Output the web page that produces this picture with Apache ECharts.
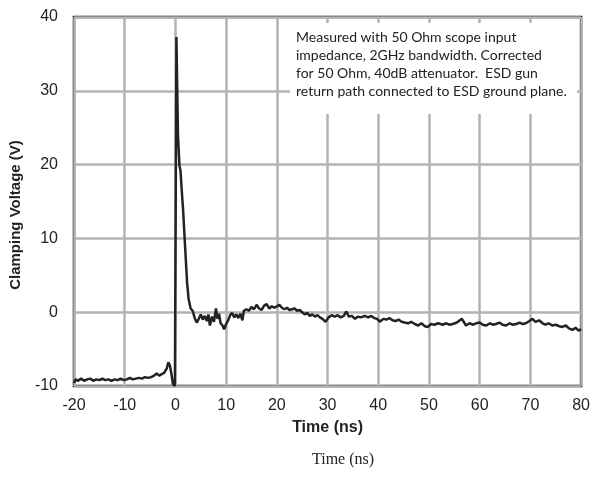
<!DOCTYPE html>
<html>
<head>
<meta charset="utf-8">
<script src="https://cdn.jsdelivr.net/npm/echarts@6/dist/echarts.min.js"></script>
<style>
  html, body { margin: 0; padding: 0; background: #fff; }
  #chart { width: 593px; height: 478px; }
</style>
</head>
<body>
<div id="chart"></div>
<script>
// time in ns, clamping voltage in V
const times = [
  -20, -19.7, -19.2, -18.6, -18.0, -17.4, -16.8, -16.2, -15.6, -15.0,
  -14.4, -13.8, -13.2, -12.6, -12.0, -11.4, -10.8, -10.2, -9.6, -9.0,
  -8.4, -7.8, -7.2, -6.6, -6.0, -5.4, -4.8, -4.2, -3.7, -3.2,
  -2.7, -2.2, -1.7, -1.4, -1.1, -0.8, -0.5, -0.1, 0.2, 0.5,
  0.8, 1.0, 1.2, 1.5, 1.9, 2.3, 2.6, 3.0, 3.4, 3.8,
  4.2, 4.6, 5.0, 5.4, 5.8, 6.2, 6.5, 6.8, 7.2, 7.6,
  8.0, 8.3, 8.6, 8.9, 9.3, 9.6, 10.0, 10.4, 10.8, 11.2,
  11.6, 12.0, 12.4, 12.8, 13.2, 13.5, 14.0, 14.5, 15.0, 15.5,
  16.0, 16.5, 17.0, 17.5, 18.0, 18.5, 19.0, 19.5, 20.0, 20.5,
  21.0, 21.5, 22.0, 22.5, 23.0, 23.5, 24.0, 24.5, 25.0, 25.5,
  26.0, 26.5, 27.0, 27.5, 28.0, 28.5, 29.0, 29.6, 30.2, 30.8,
  31.4, 32.0, 32.6, 33.2, 33.7, 34.2, 34.8, 35.4, 36.0, 36.6,
  37.3, 38.0, 38.6, 39.2, 39.8, 40.3, 41.0, 41.6, 42.2, 42.8,
  43.4, 44.0, 44.6, 45.2, 45.9, 46.5, 47.2, 47.9, 48.5, 49.2,
  49.8, 50.4, 51.1, 51.8, 52.7, 53.4, 54.0, 54.7, 55.5, 56.5,
  57.3, 58.0, 58.7, 59.3, 60.0, 60.6, 61.3, 62.0, 62.6, 63.2,
  63.9, 64.5, 65.2, 65.9, 66.5, 67.2, 67.9, 68.5, 69.1, 69.8,
  70.4, 71.0, 71.7, 72.4, 73.0, 73.6, 74.3, 75.0, 75.7, 76.3,
  77.0, 77.6, 78.3, 78.9, 79.5, 80.0
]
const volts = [
  -9.6, -9.1, -9.3, -9.0, -9.3, -9.1, -9.0, -9.3, -9.1, -9.2,
  -9.0, -9.2, -9.1, -9.3, -9.1, -9.2, -9.0, -9.2, -9.1, -8.9,
  -9.1, -9.0, -8.9, -9.0, -8.8, -8.9, -8.8, -8.6, -8.3, -8.6,
  -8.4, -8.2, -7.6, -6.8, -7.2, -8.3, -9.7, -10, 37.3, 24,
  19.8, 19.2, 17, 14, 9, 4, 1.8, 0.5, 0.2, -0.8,
  -1.4, -0.9, -0.3, -1.0, -0.5, -1.2, -0.3, -1.8, -0.6, -1.3,
  0.5, -0.9, -0.2, -1.5, -1.8, -2.3, -1.6, -1.1, -0.4, -0.1,
  -0.7, -0.3, -0.8, -0.2, -1.1, 0.2, 0.4, 0.2, 0.7, 0.4,
  1.0, 0.5, 0.3, 0.9, 1.1, 0.5, 0.8, 0.6, 0.8, 1.0,
  0.6, 0.4, 0.6, 0.3, 0.4, 0.5, 0.2, 0.3, 0.0, -0.3,
  -0.1, -0.5, -0.3, -0.6, -0.4, -0.7, -0.9, -1.3, -0.7, -0.4,
  -0.6, -0.4, -0.7, -0.5, 0.1, -0.6, -0.5, -0.9, -0.6, -0.7,
  -0.5, -0.7, -0.5, -0.8, -0.9, -1.3, -0.9, -1.0, -0.8, -1.1,
  -1.2, -1.0, -1.3, -1.4, -1.5, -1.3, -1.6, -1.8, -1.5, -1.9,
  -2.0, -1.6, -1.7, -1.5, -1.7, -1.5, -1.7, -1.6, -1.4, -0.9,
  -1.8, -1.5, -1.7, -1.5, -1.4, -1.7, -1.8, -1.5, -1.7, -1.6,
  -1.4, -1.7, -1.8, -1.5, -1.7, -1.6, -1.4, -1.6, -1.5, -1.2,
  -0.9, -1.3, -1.1, -1.5, -1.7, -1.5, -1.8, -1.7, -1.9, -2.0,
  -1.8, -2.2, -2.4, -2.1, -2.5, -2.3
]
const noteLines = [
  'Measured with 50 Ohm scope input',
  'impedance, 2GHz bandwidth. Corrected',
  'for 50 Ohm, 40dB attenuator.  ESD gun',
  'return path connected to ESD ground plane.'
]

const chart = echarts.init(document.getElementById('chart'))

const labelFont = { color: '#222', fontSize: 16, fontFamily: 'Liberation Sans, Arial, sans-serif' }

chart.setOption({
  animation: false,
  grid: {
    left: 74, top: 17, right: 8, bottom: 92,
    show: true, borderColor: '#111', borderWidth: 2.5, backgroundColor: 'transparent'
  },
  xAxis: {
    type: 'value', min: -20, max: 80, interval: 10,
    name: 'Time (ns)', nameLocation: 'middle', nameGap: 34,
    nameTextStyle: { ...labelFont, fontWeight: 'bold' },
    axisLine: { show: false }, axisTick: { show: false },
    axisLabel: { ...labelFont, margin: 12 },
    splitLine: { lineStyle: { color: '#b3b3b3', width: 2.5 } }
  },
  yAxis: {
    type: 'value', min: -10, max: 40, interval: 10,
    axisLine: { show: false }, axisTick: { show: false },
    axisLabel: { ...labelFont, margin: 16 },
    splitLine: { lineStyle: { color: '#b3b3b3', width: 2.5 } }
  },
  graphic: [
    {
      type: 'rect', shape: { x: 290, y: 23, width: 287, height: 91 },
      style: { fill: '#fff' }, z: 10
    },
    {
      type: 'text', left: 296, top: 28, z: 11,
      style: {
        text: noteLines.join('\n'), fill: '#222',
        font: '14px Lato, "Open Sans", sans-serif', lineHeight: 18
      }
    },
    {
      type: 'text', x: 16, y: 215, rotation: Math.PI / 2, z: 11,
      style: {
        text: 'Clamping Voltage (V)', fill: '#222', align: 'center', verticalAlign: 'middle',
        font: 'bold 15px "Liberation Sans", Arial, sans-serif'
      }
    },
    {
      type: 'text', left: 312, top: 452, z: 11,
      style: { text: 'Time (ns)', fill: '#222', font: '16px "Liberation Serif", serif' }
    }
  ],
  series: [{
    type: 'line',
    data: times.map((t, i) => [t, volts[i]]),
    showSymbol: false,
    lineStyle: { color: '#222', width: 2.5 },
    z: 5
  }]
})
</script>
</body>
</html>
